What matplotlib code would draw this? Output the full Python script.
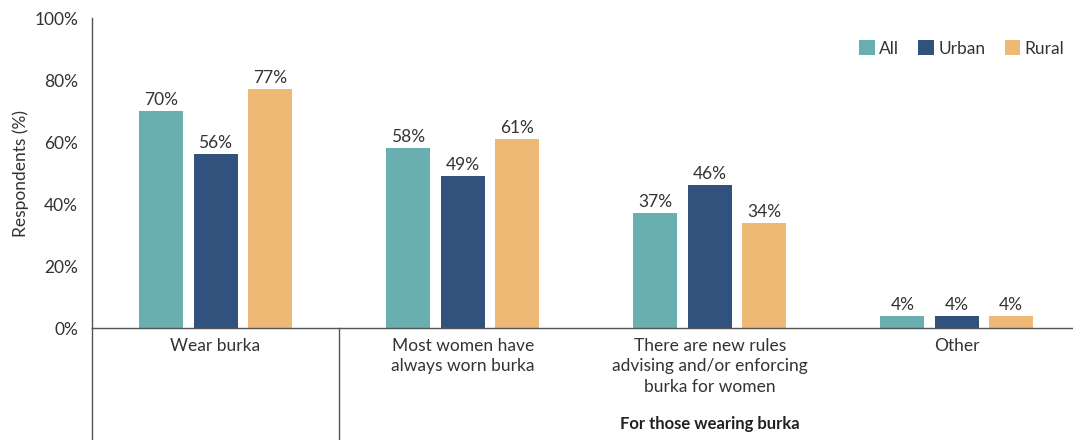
import matplotlib
matplotlib.use("Agg")
import matplotlib.pyplot as plt
import matplotlib.transforms as mtransforms
from matplotlib.patches import Patch
import numpy as np

plt.rcParams['font.family'] = ['Lato', 'DejaVu Sans']

categories = ["Wear burka",
              "Most women have\nalways worn burka",
              "There are new rules\nadvising and/or enforcing\nburka for women",
              "Other"]
series_names = ["All", "Urban", "Rural"]
all_vals = [70, 58, 37, 4]
urban_vals = [56, 49, 46, 4]
rural_vals = [77, 61, 34, 4]
yticks = [0, 20, 40, 60, 80, 100]
group_label = "For those wearing burka"

colors = ["#6AAFAF", "#31527D", "#EDB974"]
text_color = "#333333"
line_color = "#555555"
fs = 12.5

fig = plt.figure(figsize=(10.73, 4.40), dpi=100)
ax = fig.add_axes([0.0857, 0.2545, 0.9143, 0.7045])

x = np.arange(len(categories))
width = 0.178
offset = 0.22
for i, (vals, col) in enumerate(zip([all_vals, urban_vals, rural_vals], colors)):
    pos = x + (i - 1) * offset
    bars = ax.bar(pos, vals, width=width, color=col, label=series_names[i], zorder=2)
    for b, v in zip(bars, vals):
        ax.text(b.get_x() + b.get_width() / 2, v + 1, f"{v}%", ha="center", va="bottom",
                fontsize=fs, color=text_color)

ax.set_xlim(-0.5, 3.47)
ax.set_ylim(0, 100)
ax.set_yticks(yticks)
ax.set_yticklabels([f"{t}%" for t in yticks], fontsize=fs, color=text_color)
ax.tick_params(axis="y", length=0, pad=10)
ax.set_xticks(x)
ax.set_xticklabels(categories, fontsize=fs, color=text_color, linespacing=1.35, va="top")
ax.tick_params(axis="x", length=0, pad=7)
ax.set_ylabel("Respondents (%)", fontsize=fs, color=text_color, labelpad=4)

for s in ["top", "right"]:
    ax.spines[s].set_visible(False)
for s in ["left", "bottom"]:
    ax.spines[s].set_color(line_color)
    ax.spines[s].set_linewidth(1.0)

# extended separators below the axis
trans = mtransforms.blended_transform_factory(ax.transData, ax.transAxes)
ax.plot([-0.5, -0.5], [0, -0.37], transform=trans, color=line_color, lw=1.0, clip_on=False)
ax.plot([0.5, 0.5], [0, -0.37], transform=trans, color=line_color, lw=1.0, clip_on=False)

ax.text(2, -0.31, group_label, transform=trans, ha="center", va="center",
        fontsize=12, fontweight="bold", color="#222222")

handles = [Patch(facecolor=c, edgecolor="none") for c in colors]
leg = ax.legend(handles, series_names, loc="upper right", bbox_to_anchor=(1.007, 0.978),
                ncol=3, frameon=False, fontsize=fs, handlelength=0.9, handleheight=0.9,
                handletextpad=0.25, columnspacing=1.1)
for t in leg.get_texts():
    t.set_color(text_color)

fig.savefig("out.png", dpi=100)
